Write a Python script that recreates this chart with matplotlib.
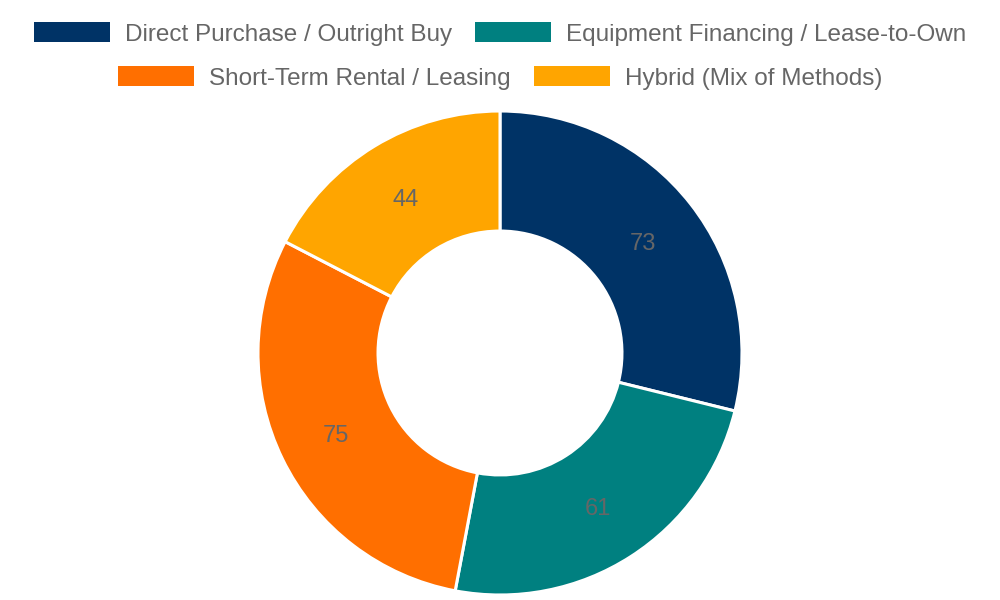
import matplotlib
matplotlib.use("Agg")
import matplotlib.pyplot as plt
from matplotlib.patches import Rectangle
import numpy as np

plt.rcParams['font.family'] = ['Liberation Sans', 'DejaVu Sans']

# data
labels = ["Direct Purchase / Outright Buy", "Equipment Financing / Lease-to-Own",
          "Short-Term Rental / Leasing", "Hybrid (Mix of Methods)"]
values = [73, 61, 75, 44]
colors = ["#003366", "#008080", "#FF6F00", "#FFA500"]
legend_rows = [[0, 1], [2, 3]]

W, H = 1000, 600
fig = plt.figure(figsize=(10, 6), dpi=100)

# donut, centre (500, 353), outer r 242 px
cx, cy, r = 500, 353, 242
ax = fig.add_axes([(cx - r) / W, (H - cy - r) / H, 2 * r / W, 2 * r / H])
wedges, _ = ax.pie(values, colors=colors, startangle=90, counterclock=False,
                   radius=1, wedgeprops=dict(width=0.496, edgecolor="white", linewidth=2.2))
ax.set_xlim(-1, 1)
ax.set_ylim(-1, 1)
ax.axis("off")

total = sum(values)
start = 90
for v in values:
    ang = np.deg2rad(start - v / total * 360 / 2)
    ax.text(0.752 * np.cos(ang), 0.752 * np.sin(ang) - 0.012, str(v), ha="center", va="center",
            fontsize=17, color="#666666")
    start -= v / total * 360

# legend drawn by hand so each row is centred
fig.canvas.draw()
renderer = fig.canvas.get_renderer()
box_w, box_h, gap, spacing = 76, 20, 15, 23
fs = 17.5
row_y = [32, 76]
for row, yc in zip(legend_rows, row_y):
    widths = []
    for i in row:
        t = fig.text(0, 0, labels[i], fontsize=fs)
        widths.append(t.get_window_extent(renderer).width)
        t.remove()
    total_w = sum(box_w + gap + w for w in widths) + spacing * (len(row) - 1)
    x = W / 2 - total_w / 2
    for i, w in zip(row, widths):
        fig.patches.append(Rectangle((x / W, (H - yc - box_h / 2) / H), box_w / W, box_h / H,
                                     transform=fig.transFigure, facecolor=colors[i],
                                     edgecolor="none"))
        fig.text((x + box_w + gap) / W, (H - yc) / H, labels[i], fontsize=fs,
                 color="#666666", ha="left", va="center_baseline")
        x += box_w + gap + w + spacing

fig.savefig("out.png", dpi=100, facecolor="white")
